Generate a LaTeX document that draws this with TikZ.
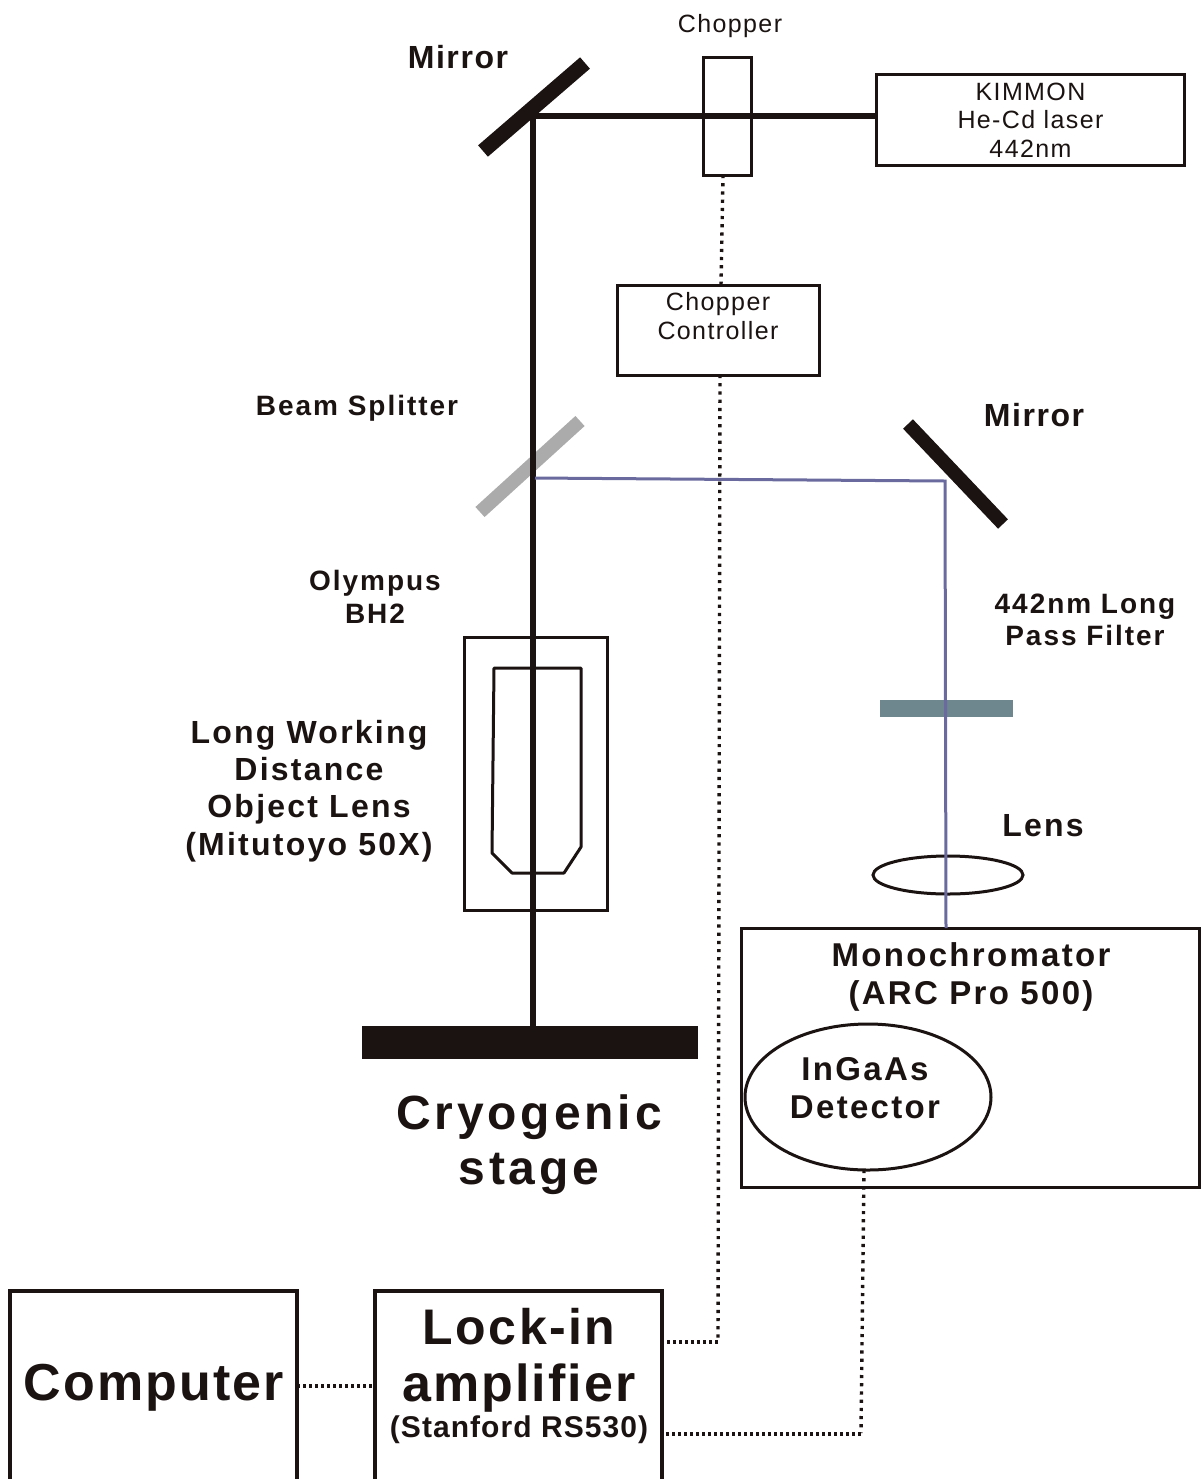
\documentclass[tikz,border=0pt]{standalone}
\usepackage{fontspec}
\setmainfont{Liberation Sans}
\usetikzlibrary{shapes.geometric}
\definecolor{ink}{HTML}{1A1311}
\definecolor{refl}{HTML}{6A6A9E}
\definecolor{filt}{HTML}{6E868E}
\definecolor{split}{HTML}{ABABAB}
\tikzset{
 x=0.5pt,y=-0.5pt,
 box/.style={draw=ink,line width=1.5pt,inner sep=0pt,outer sep=0pt,shape=rectangle},
 txt/.style={inner sep=0pt,outer sep=0pt,align=center,text=ink},
 lab/.style={txt,font=\fontsize{12.5}{14.25}\selectfont\addfontfeature{LetterSpace=5.6}},
 small/.style={txt,font=\fontsize{14}{16.2}\bfseries\selectfont\addfontfeature{LetterSpace=7}},
 mid/.style={txt,font=\fontsize{16}{18.6}\bfseries\selectfont\addfontfeature{LetterSpace=7}},
 big/.style={txt,font=\fontsize{16.5}{19}\bfseries\selectfont\addfontfeature{LetterSpace=7}},
 mirrorlab/.style={txt,font=\fontsize{16}{18}\bfseries\selectfont\addfontfeature{LetterSpace=5}},
 beam/.style={line width=3.3pt,draw=ink},
 rbeam/.style={line width=1.5pt,draw=refl},
 plate/.style={line width=7.5pt,draw=ink},
 vwire/.style={line width=1.7pt,draw=ink,dash pattern=on 1.6pt off 2.5pt},
 hwire/.style={line width=1.7pt,draw=ink,dash pattern=on 1.5pt off 1.5pt},
}
\begin{document}
\begin{tikzpicture}
\useasboundingbox (0,0) rectangle (1201,1479);
% instruments
\node[box,minimum width=154pt,minimum height=45.5pt,lab] (laser) at (1030.5,120) {KIMMON\\He-Cd laser\\442nm};
\node[box,minimum width=24pt,minimum height=59pt] (chopper) at (727,116) {};
\node[box,minimum width=101pt,minimum height=45pt] (ctrl) at (718.5,330) {};
\node[lab] (ctrltxt) at (718,316) {Chopper\\Controller};
\node[box,minimum width=71.5pt,minimum height=136.5pt] (olympus) at (536,773.5) {};
\node[box,minimum width=229pt,minimum height=129.5pt] (mono) at (970.5,1057.5) {};
\node[box,shape=ellipse,minimum width=123pt,minimum height=73pt] (det) at (868,1097) {};
\node[draw=ink,line width=1.5pt,shape=ellipse,inner sep=0pt,outer sep=0pt,minimum width=75pt,minimum height=19pt] (lens) at (948,875) {};
\node[fill=ink,inner sep=0pt,outer sep=0pt,minimum width=168pt,minimum height=16.5pt] (stage) at (530,1042) {};
\node[fill=filt,inner sep=0pt,outer sep=0pt,minimum width=66.5pt,minimum height=8.5pt] (filter) at (946.5,708) {};
% open-bottomed boxes that run off the page
\node[inner sep=0pt,outer sep=0pt,minimum width=143.5pt,minimum height=94pt] (computer) at (153.5,1385) {};
\node[inner sep=0pt,outer sep=0pt,minimum width=143.5pt,minimum height=94pt] (lockin) at (518.5,1385) {};
\draw[ink,line width=1.6pt] (computer.south west) -- (computer.north west) -- (computer.north east) -- (computer.south east);
\draw[ink,line width=1.6pt] (lockin.south west) -- (lockin.north west) -- (lockin.north east) -- (lockin.south east);
% objective outline
\draw[ink,line width=1.5pt,line join=round] (494,668) -- (581,668) -- (581,847) -- (564,873) -- (512,873) -- (492,853) -- cycle;
% optics plates
\coordinate (m1a) at (483,151); \coordinate (m1b) at (585,63);
\coordinate (m2a) at (908,424); \coordinate (m2b) at (1003,524);
\coordinate (bsa) at (480,512); \coordinate (bsb) at (580,421);
\draw[plate,split,line width=6.8pt] (bsa) -- (bsb);
\draw[plate] (m1a) -- (m1b);
\draw[plate,line width=6.8pt] (m2a) -- (m2b);
% beams
\coordinate (hit1) at (533,116);
\coordinate (hit2) at (535,478);
\coordinate (hit3) at (945,481);
\draw[beam] (laser.west |- hit1) -- (hit1);
\draw[beam,line cap=rect] (hit1) -- (stage.north -| hit1);
\draw[rbeam] (hit2) -- (hit3) -- (mono.north -| 946,0);
% signal wires
\draw[vwire] (chopper.south -| 723,0) -- (ctrl.north -| 721,0);
\draw[vwire] (ctrl.south -| 720,0) -- (718,1341);
\draw[hwire] (718,1342) -- (lockin.east |- 718,1342);
\draw[vwire] (det.south -| 864,0) -- (861,1433);
\draw[hwire] (861,1434) -- (lockin.east |- 861,1434);
\draw[hwire] (computer.east |- 0,1386) -- (lockin.west |- 0,1386);
% labels
\node[lab] (t1) at (730,26) {Chopper};
\node[mirrorlab] (t2) at (458,57) {Mirror};
\node[mirrorlab] (t3) at (1034,415) {Mirror};
\node[small] (t4) at (357,408) {Beam Splitter};
\node[small] (t5) at (375,597) {Olympus\\BH2};
\node[mid] (t6) at (309,791) {Long Working\\Distance\\Object Lens\\(Mitutoyo 50X)};
\node[small] (t7) at (1085,620) {442nm Long\\Pass Filter};
\node[mid] (t8) at (1043,826) {Lens};
\node[big] (t9) at (971,977) {Monochromator\\(ARC Pro 500)};
\node[big] (t10) at (865,1088) {InGaAs\\Detector};
\node[txt,font=\fontsize{24}{27.5}\bfseries\selectfont\addfontfeature{LetterSpace=8}] (t11) at (529,1145) {Cryogenic\\stage};
\node[txt,font=\fontsize{26}{30}\bfseries\selectfont\addfontfeature{LetterSpace=4}] (t12) at (154,1388) {Computer};
\node[txt,font=\fontsize{25}{30}\bfseries\selectfont\addfontfeature{LetterSpace=5}] (t13) at (519,1327) {Lock-in};
\node[txt,font=\fontsize{26}{30}\bfseries\selectfont\addfontfeature{LetterSpace=4}] (t14) at (519,1388) {amplifier};
\node[txt,font=\fontsize{15}{18}\bfseries\selectfont\addfontfeature{LetterSpace=3.5}] (t15) at (519,1430) {(Stanford RS530)};
\end{tikzpicture}
\end{document}
